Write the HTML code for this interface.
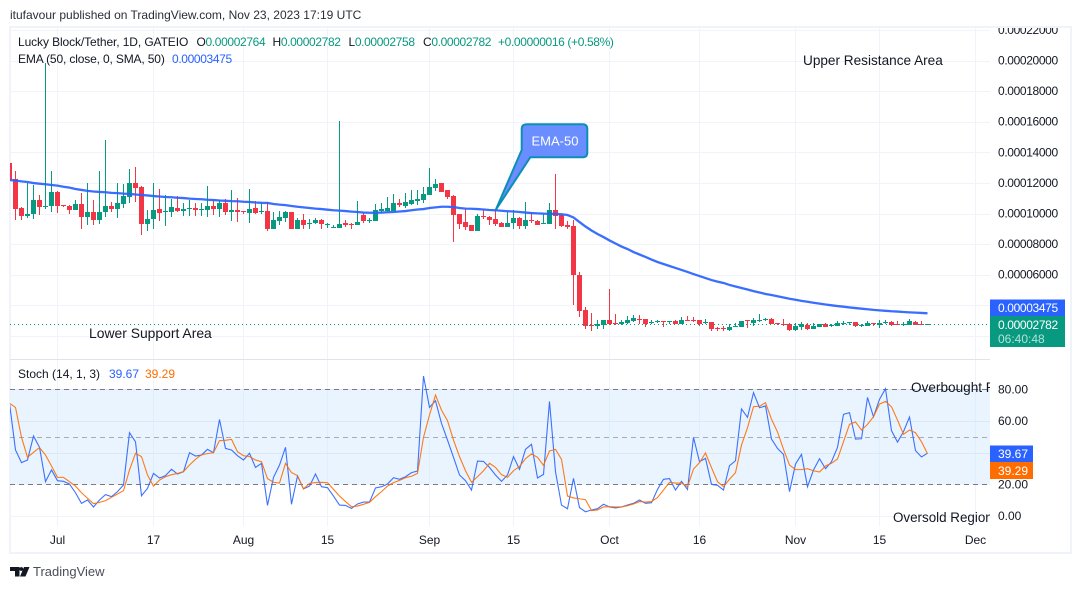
<!DOCTYPE html>
<html lang="en">
<head>
<meta charset="utf-8">
<title>Lucky Block/Tether chart</title>
<style>
html,body{margin:0;padding:0;background:#fff;width:1080px;height:589px;overflow:hidden}
svg{display:block}
text{font-family:"Liberation Sans",sans-serif;font-size:12px;fill:#131722}
.g{fill:#089981}
.n{letter-spacing:-.36px}
</style>
</head>
<body>
<svg id="chart" xmlns="http://www.w3.org/2000/svg" width="1080" height="589" viewBox="0 0 1080 589">
  <defs>
    <clipPath id="main-clip"><rect x="10" y="28" width="980" height="331"/></clipPath>
    <clipPath id="stoch-clip"><rect x="10" y="360" width="980" height="166"/></clipPath>
    <clipPath id="frame-clip"><rect x="10" y="28" width="1060" height="525"/></clipPath>
  </defs>
  <text x="10" y="19" style="fill:#2a2e39">itufavour published on TradingView.com, Nov 23, 2023 17:19 UTC</text>
  <rect x="10" y="27" width="1061" height="526" fill="none" stroke="#f0f3fa" stroke-width="2"/>
  <g id="grid"></g>
  <rect id="stoch-band" x="10" y="389.5" width="980" height="94.8" fill="#e9f4fe"/>
  <g id="grid-over"></g>
  <line x1="10" x2="990" y1="359.5" y2="359.5" stroke="#e0e3eb"/>
  <g id="candles" clip-path="url(#main-clip)"></g>
  <line id="last-price-line" x1="10" x2="990" stroke="#089981" stroke-dasharray="1 3"/>
  <path id="ema-line" fill="none" stroke="#2962ff" stroke-width="2.3" stroke-opacity=".92" clip-path="url(#main-clip)"/>
  <g>
    <path d="M527.5 124.3 H582.5 Q587.3 124.3 587.3 129 V152.5 Q587.3 157.3 582.5 157.3 H530.3 L495.7 210 L521.7 150 V129 Q521.7 124.3 527.5 124.3 Z" fill="#6a8dff" stroke="#0c8fb5" stroke-width="2"/>
    <text x="555" y="145.5" text-anchor="middle" style="font-size:13px;fill:#fff">EMA-50</text>
  </g>
  <text x="803" y="65" style="font-size:13.6px">Upper Resistance Area</text>
  <text x="89" y="338" style="font-size:13.9px">Lower Support Area</text>

  <g>
    <text x="18" y="46" style="letter-spacing:-.1px">Lucky Block/Tether, 1D, GATEIO</text>
    <text x="196.5" y="46" class="n">O<tspan class="g">0.00002764</tspan></text>
    <text x="272.5" y="46" class="n">H<tspan class="g">0.00002782</tspan></text>
    <text x="348.5" y="46" class="n">L<tspan class="g">0.00002758</tspan></text>
    <text x="423" y="46" class="n">C<tspan class="g">0.00002782</tspan></text>
    <text x="498" y="46" class="g n">+0.00000016 (+0.58%)</text>
    <text x="18" y="63" style="letter-spacing:-.15px">EMA (50, close, 0, SMA, 50)</text>
    <text x="172" y="63" class="n" style="fill:#2962ff">0.00003475</text>
  </g>

  <g id="stoch-lines" clip-path="url(#stoch-clip)">
    <path id="stoch-k" fill="none" stroke="#2962ff" stroke-width="1.1" stroke-opacity=".9"/>
    <path id="stoch-d" fill="none" stroke="#ff6d00" stroke-width="1.1" stroke-opacity=".9"/>
  </g>
  <g clip-path="url(#stoch-clip)">
    <text x="911" y="392" style="font-size:13.6px">Overbought Region</text>
    <text x="893" y="522" style="font-size:13.4px">Oversold Region</text>
  </g>
  <g>
    <text x="18" y="378">Stoch (14, 1, 3)</text>
    <text x="109" y="378" style="fill:#2962ff">39.67</text>
    <text x="145" y="378" style="fill:#ff6d00">39.29</text>
  </g>

  <g id="axis-labels" clip-path="url(#frame-clip)"></g>

  <g>
    <rect x="990" y="299.5" width="75" height="17" fill="#2962ff"/>
    <text x="998" y="312" class="n" style="fill:#fff">0.00003475</text>
    <rect x="990" y="316" width="75" height="31" fill="#089981"/>
    <text x="998" y="329" class="n" style="fill:#fff">0.00002782</text>
    <text x="998" y="343" style="fill:#b5e1d8">06:40:48</text>
    <rect x="990" y="445.5" width="43" height="17" fill="#2962ff"/>
    <text x="998" y="458" style="fill:#fff">39.67</text>
    <rect x="990" y="462" width="43" height="17" fill="#ff6d00"/>
    <text x="998" y="475" style="fill:#fff">39.29</text>
  </g>

  <g>
    <path d="M10 567 H19.5 V576.5 H15 V571 H10 Z M24 567 H29.5 L25.5 576.5 H20 Z" fill="#131722"/>
    <circle cx="21.3" cy="569" r="1.9" fill="#131722"/>
    <text x="33" y="576" style="font-size:13px;fill:#4a4e59">TradingView</text>
  </g>
</svg>
<script>
// Prices are in millionths of USDT (100 = 0.00010000)
const opens = [133.0,122.5,103.6,98.4,99.7,108.8,104.2,104.9,114.1,105.5,104.9,102.3,106.2,97.7,101.0,95.7,101.0,104.9,102.9,106.2,110.8,119.9,117.3,93.1,96.4,102.9,101.0,101.0,103.6,101.6,102.9,103.6,102.3,102.3,104.9,102.9,106.9,101.0,102.3,101.6,100.3,103.6,101.0,101.6,89.9,95.1,97.1,101.0,89.9,95.7,93.1,93.8,95.7,92.5,90.5,90.5,93.8,93.1,92.5,99.0,95.1,95.1,101.6,101.6,101.6,106.9,104.9,106.2,108.2,108.8,112.1,116.7,119.9,115.4,111.4,99.7,94.4,92.5,88.6,98.4,97.7,96.4,93.8,91.2,93.8,97.1,91.8,95.7,95.1,93.1,93.1,102.3,99.0,92.5,91.8,59.8,36.9,27.1,26.5,27.1,30.4,28.4,27.8,28.4,29.7,31.0,31.0,28.4,29.1,29.7,29.1,29.7,27.8,30.4,30.4,30.4,28.4,29.1,25.2,25.2,23.8,25.8,25.8,30.4,28.4,29.7,30.4,31.0,28.4,27.8,27.8,23.8,25.8,27.1,24.5,25.8,27.8,26.5,26.5,27.8,28.4,29.1,26.5,26.5,28.4,27.1,28.4,29.1,27.8,27.1,27.1,29.1,27.8,27.64];
const highs = [133.0,127.8,104.2,119.9,118.6,112.1,198.4,127.8,114.7,105.5,105.5,108.8,113.4,119.9,108.8,127.8,148.0,107.5,119.9,119.3,129.1,130.4,118.0,102.3,119.9,116.0,112.1,109.5,111.4,106.9,108.8,106.9,106.9,118.0,108.8,108.8,109.5,115.4,110.1,101.6,116.0,108.2,106.9,107.5,101.0,101.6,101.6,101.0,97.1,99.7,96.4,97.1,96.4,93.8,92.5,160.4,95.7,93.8,108.2,100.3,97.1,106.2,106.9,110.8,112.8,109.5,113.4,115.4,115.4,117.3,129.7,122.5,119.9,115.4,112.1,99.7,102.9,92.5,99.7,102.9,98.4,102.3,94.4,101.0,102.3,97.7,107.5,101.0,95.7,99.7,106.9,125.8,99.7,95.1,95.7,61.8,38.9,35.0,30.4,30.4,50.6,34.3,30.4,33.0,33.7,33.7,31.0,30.4,30.4,29.7,29.7,30.4,32.3,33.0,32.3,30.4,31.0,29.1,25.8,26.5,27.8,28.4,29.7,30.4,31.7,34.3,31.7,31.7,28.4,31.0,28.4,28.4,29.1,28.4,28.4,27.8,28.4,27.8,29.7,29.7,29.1,29.1,27.8,29.7,28.4,30.4,30.4,29.7,29.7,29.1,31.0,29.7,29.7,27.82];
const lows = [121.9,95.7,95.7,97.1,96.4,99.0,102.9,101.0,100.3,104.2,99.7,102.3,89.9,92.5,92.5,93.1,97.7,101.0,97.1,103.6,106.9,107.5,85.9,88.6,89.9,95.1,91.8,97.7,101.0,98.4,98.4,98.4,98.4,97.7,99.0,97.7,99.0,95.1,94.4,99.7,93.8,99.7,99.7,88.6,89.9,92.5,94.4,89.9,89.9,89.9,89.9,93.1,89.9,90.5,90.5,90.5,91.2,89.9,92.5,93.8,93.8,95.1,100.3,101.0,101.6,104.2,103.6,105.5,105.5,106.9,112.1,114.7,114.1,109.5,81.3,89.9,89.2,88.6,88.6,96.4,92.5,91.8,91.2,91.2,89.9,89.9,89.9,93.8,92.5,93.1,93.1,89.9,91.2,89.9,40.2,32.3,24.5,23.2,24.5,24.5,27.1,27.1,27.1,27.8,29.1,27.8,25.8,27.8,28.4,25.8,27.8,27.8,27.8,29.7,29.1,26.5,27.8,23.2,23.2,23.2,23.2,25.8,25.8,25.2,26.5,29.1,29.7,27.8,27.1,26.5,23.2,23.2,23.8,23.8,24.5,25.8,25.8,25.8,26.5,27.1,27.1,25.8,25.8,26.5,26.5,25.2,27.8,26.5,27.1,26.5,27.1,27.1,27.1,27.58];
const closes = [121.9,102.9,98.4,99.7,108.8,104.2,104.9,114.1,104.9,104.9,102.3,106.2,97.7,101.0,95.7,101.0,104.9,102.9,106.9,111.4,119.9,116.7,93.1,96.4,102.3,100.3,101.6,104.2,101.6,102.9,103.6,102.3,102.9,104.9,102.9,106.9,101.0,102.3,101.0,101.0,102.9,100.3,101.6,89.9,95.7,97.7,101.0,89.9,95.7,92.5,93.8,95.7,93.1,93.1,91.2,93.1,92.5,92.5,94.4,95.1,95.7,102.3,102.9,103.6,106.9,105.5,107.5,108.8,109.5,112.8,117.3,119.3,114.1,110.8,99.0,93.1,91.2,88.6,98.4,97.7,95.7,93.1,91.2,93.8,97.1,91.8,95.7,95.1,92.5,93.8,102.3,98.4,91.8,91.2,59.8,36.3,26.5,26.5,27.8,30.4,27.8,27.8,29.1,30.4,31.7,30.4,27.8,29.1,29.7,29.1,29.7,27.8,30.4,29.7,29.7,27.8,29.1,24.5,24.5,24.5,25.8,26.5,29.7,29.7,30.4,30.4,31.0,27.8,27.8,27.1,23.8,26.5,27.8,24.5,26.5,27.8,25.8,27.1,28.4,28.4,29.1,26.5,27.1,28.4,27.8,28.4,29.1,27.1,27.1,27.8,29.7,27.1,27.1,27.82];
const ema50 = [121.9,121.5,121.0,120.6,119.9,119.5,119.1,118.6,118.2,117.5,116.9,116.0,115.4,114.8,114.4,114.1,113.9,113.5,113.3,113.0,112.8,112.4,112.1,111.8,111.4,111.1,110.8,110.6,110.3,110.1,109.7,109.5,109.3,109.0,108.8,108.5,108.3,108.1,108.0,107.7,107.5,107.2,107.0,106.9,106.2,105.8,105.5,104.9,104.4,104.0,103.6,103.2,102.9,102.5,102.1,101.9,101.6,101.2,101.0,100.6,100.5,100.5,100.6,100.8,101.0,101.3,101.6,102.1,102.6,102.9,103.6,104.0,104.4,104.4,104.2,103.6,103.2,103.1,102.9,102.6,102.3,102.1,101.8,101.5,101.3,101.0,100.6,100.3,100.1,99.9,99.8,99.7,99.5,99.0,97.4,94.4,91.5,88.9,86.6,84.6,82.4,80.4,78.4,76.8,74.8,73.2,71.6,69.9,68.3,67.0,65.7,64.4,63.1,61.8,60.4,59.1,57.8,56.5,55.5,54.6,53.3,52.3,51.3,50.3,49.3,48.4,47.4,46.7,45.9,45.1,44.3,43.6,42.9,42.3,41.7,41.1,40.5,40.0,39.5,39.1,38.6,38.2,37.8,37.4,37.0,36.7,36.4,36.1,35.9,35.6,35.4,35.2,35.0,34.75];
const stochK = [71.2,41.7,33.7,35.4,50.5,43.4,21.7,29.1,22.3,21.9,20.2,14.7,8,10.1,5.7,10.1,13.5,12.2,15.4,19.6,52.6,46.9,12.8,17.5,26.9,24,25.5,29.5,26.5,28,40,37.9,38.5,42.1,40,61,42.7,41.7,38.1,35.4,39.6,30.7,33.3,6.7,24.4,32.2,43.4,7.4,25.3,17.1,18.9,26.5,18.5,17.9,12.6,6.9,6.7,4.8,7.6,8.8,8.8,17.7,18.5,20.2,24.2,23.2,24.8,27.4,28.4,88.4,68.6,72.8,58.5,48,37.1,25.9,22.3,16.4,34.7,34.5,30.7,25.9,21.9,25.9,37.5,29.5,42.1,45.3,24,26.3,72.4,28,6.9,4.6,23.8,5.3,2.7,3.8,4.6,7.4,5.7,5.1,5.7,6.9,8,10.1,8,8.4,16.8,23.2,23.6,16.4,21.9,16.8,49.7,34.3,36.4,20,19.4,16.4,31.8,34.9,67.6,62.3,77.9,68.4,69.5,48.6,42.7,38.9,15.4,32.8,38.9,18.5,29.1,36.2,29.9,34.3,43.4,64.2,65.3,48.6,48.8,74.9,62.7,73.7,80.4,53.9,46.7,53.3,62.5,41.3,37.3,39.67];
const stochD = [71.2,68.6,49.7,37.1,40.2,43.2,38.5,31.6,24.4,24.4,21.7,18.9,14.7,11.2,7.8,8.6,9.7,11.8,13.9,16,29.1,39.6,37.5,25.9,18.9,22.7,24.8,26.1,26.9,28,32.2,35.8,38.7,39.4,40,47.6,47.8,48.4,40.6,38.1,37.5,35.4,34.3,23.6,21.3,20.8,33.3,27.4,25.5,17.1,20.6,21.1,21.3,21.1,16.8,12.6,9.1,5.9,6.3,7.4,8.6,12.2,15.4,18.9,21.1,22.5,24.2,25.1,26.9,49.7,63.8,76.4,66.9,60.2,48,37.5,28.6,21.3,24.8,28.6,33.3,30.7,26.1,24.4,28.6,31.2,36.2,39.2,37.1,32,41.1,42.1,35.8,12.6,11.4,10.9,10.3,3.4,3.8,5.7,5.9,5.7,5.7,6.5,7.6,9.1,8.8,9.1,11.6,16.4,21.3,20.8,20.8,18.5,29.7,33.7,39.8,30.5,21.7,18.5,23.2,27.4,44.8,55.8,69.1,69.3,71.6,61.1,53.1,42.1,32.2,29.3,29.3,29.9,28.6,27.8,31.6,33.3,36,46.9,57.9,59.4,54.3,57.9,62.7,70.7,72.4,69,60.6,51.6,54.3,52.6,46.9,39.29];
const priceTicks = [220,200,180,160,140,120,100,80,60,40,20];
const priceTickLabels = ["0.00022000","0.00020000","0.00018000","0.00016000","0.00014000","0.00012000","0.00010000","0.00008000","0.00006000","0.00004000","0.00002000"];
const stochTicks = [80,60,40,20,0];
const stochTickLabels = ["80.00","60.00","40.00","20.00","0.00"];
const stochBands = [80,50,20];
const timeTickBars = [8,24,39,53,70,84,100,115,131,145,161];
const timeTickLabels = ["Jul","17","Aug","15","Sep","15","Oct","16","Nov","15","Dec"];
const lastClose = 27.82;

const NS = 'http://www.w3.org/2000/svg';
function xAt(i) { return 9.5 + 6 * i; }
function priceY(p) { return 60.5 + (200 - p) * 1.53; }
function stochY(v) { return 516 - 1.583 * v; }
function make(tag, parent, attrs) {
  const el = document.createElementNS(NS, tag);
  for (const k in attrs) el.setAttribute(k, attrs[k]);
  parent.appendChild(el);
  return el;
}
function linePath(values, yFn) {
  return values.map(function (v, i) { return (i ? 'L' : 'M') + xAt(i).toFixed(1) + ' ' + yFn(v).toFixed(2); }).join(' ');
}

const gridG = document.getElementById('grid');
const overG = document.getElementById('grid-over');
const axisG = document.getElementById('axis-labels');
const candleG = document.getElementById('candles');

priceTicks.forEach(function (p, n) {
  const y = Math.round(priceY(p)) + 0.5;
  const gl = make('line', gridG, { x1: 10, x2: 990, y1: y, y2: y, stroke: '#f0f3fa' });
  
  
  const t = make('text', axisG, { x: 998, y: priceY(p) + 4, class: 'n' });
  t.textContent = priceTickLabels[n];
  
  
});

timeTickBars.forEach(function (b, n) {
  const x = Math.floor(xAt(b)) + 0.5;
  const gl = make('line', gridG, { x1: x, x2: x, y1: 28, y2: 526, stroke: '#f0f3fa' });
  
  
  const ol = make('line', overG, { x1: x, x2: x, y1: 389.5, y2: 484.3, stroke: '#2196f3', 'stroke-opacity': '.06' });
  
  
  const t = make('text', axisG, { x: x, y: 544, 'text-anchor': 'middle', fill: '#131722' });
  t.textContent = timeTickLabels[n];
  
  
});

stochTicks.forEach(function (v, n) {
  const y = Math.round(stochY(v)) + 0.5;
  const gl = make('line', overG, { x1: 10, x2: 990, y1: y, y2: y, stroke: (v > 20 ? '#d6e4f0' : '#f0f3fa'), 'stroke-opacity': (v > 20 ? '.75' : '1') });
  
  
  const t = make('text', axisG, { x: 998, y: stochY(v) + 4 });
  t.textContent = stochTickLabels[n];
  
  
});

stochBands.forEach(function (v) {
  const y = Math.round(stochY(v)) + 0.5;
  const l = make('line', overG, { x1: 10, x2: 990, y1: y, y2: y, stroke: '#787b86', 'stroke-dasharray': '5 4', 'stroke-opacity': (v === 50 ? '.6' : '1') });
  
  
});

opens.forEach(function (o, i) {
  const c = closes[i];
  const color = c >= o ? '#089981' : '#f23645';
  const cx = Math.floor(xAt(i));
  const top = Math.round(priceY(highs[i]));
  const bot = Math.round(priceY(lows[i]));
  const bTop = Math.round(priceY(Math.max(o, c)));
  const bBot = Math.round(priceY(Math.min(o, c)));
  const wick = make('rect', candleG, { x: cx, y: top, width: 1, height: Math.max(1, bot - top), fill: color });
  
  
  const body = make('rect', candleG, { x: cx - 2, y: bTop, width: 5, height: Math.max(1, bBot - bTop), fill: color });
  
  
});

document.getElementById('ema-line').setAttribute('d', linePath(ema50, priceY));
document.getElementById('stoch-k').setAttribute('d', linePath(stochK, stochY));
document.getElementById('stoch-d').setAttribute('d', linePath(stochD, stochY));
const lastLine = document.getElementById('last-price-line');
lastLine.setAttribute('y1', Math.round(priceY(lastClose)) + 0.5);
lastLine.setAttribute('y2', Math.round(priceY(lastClose)) + 0.5);
</script>
</body>
</html>
